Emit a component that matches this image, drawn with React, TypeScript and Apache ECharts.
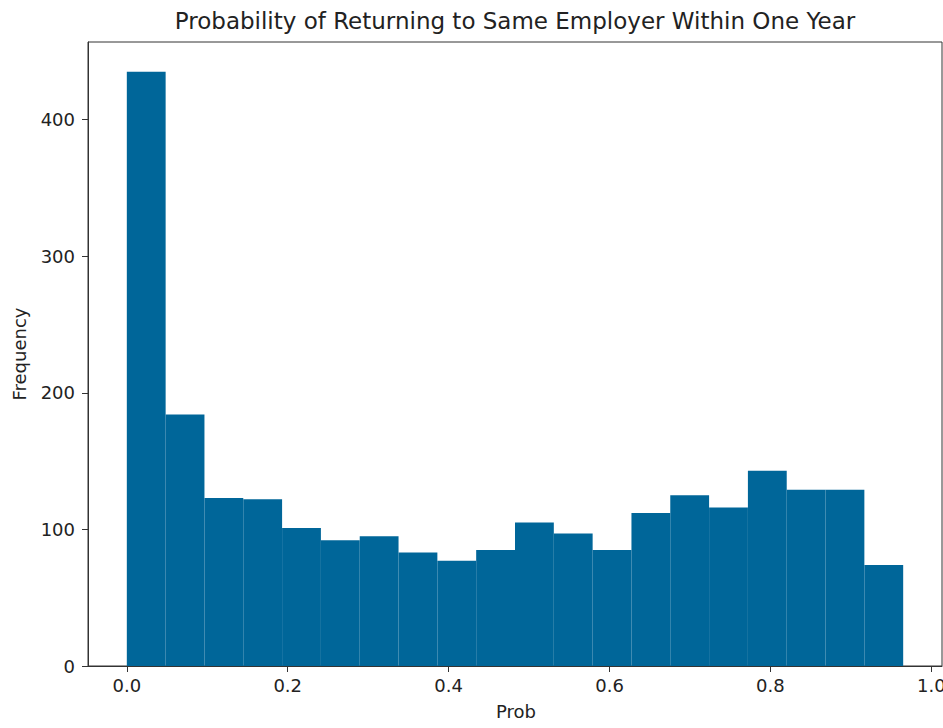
import React, { useEffect, useRef } from "react";
import * as echarts from "echarts";

// Histogram of predicted probabilities: 20 equal-width bins over the data range
const binLow = 0.0;
const binHigh = 0.965;
const binCount = 20;
const frequencies = [435, 184, 123, 122, 101, 92, 95, 83, 77, 85, 105, 97, 85, 112, 125, 116, 143, 129, 129, 74];

const xTicks = [0, 0.2, 0.4, 0.6, 0.8, 1.0];
const yTicks = [0, 100, 200, 300, 400];

const titleText = "Probability of Returning to Same Employer Within One Year";
const xName = "Prob";
const yName = "Frequency";

const FONT = "DejaVu Sans";
const BAR = "#006699";
const INK = "#222222";
const SPINE = "#333333";

export default function App() {
  const ref = useRef<HTMLDivElement>(null);

  useEffect(() => {
    if (!ref.current) return;
    const chart = echarts.init(ref.current, null, { renderer: "svg", width: 943, height: 728 });

    const step = (binHigh - binLow) / binCount;
    const rows = frequencies.map((f, i) => [binLow + i * step, binLow + (i + 1) * step, f]);
    const maxF = Math.max(...frequencies);
    const span = binHigh - binLow;

    chart.setOption({
      animation: false,
      grid: {
        left: 88,
        right: 1,
        top: 42,
        bottom: 62,
        outerBoundsMode: "none",
        containLabel: false,
        show: true,
        borderColor: SPINE,
        borderWidth: 1,
        backgroundColor: "#fff",
      },
      xAxis: {
        type: "value",
        min: binLow - 0.05 * span,
        max: binHigh + 0.05 * span,
        axisLine: { show: true, onZero: false, lineStyle: { color: SPINE, width: 1 } },
        axisTick: { show: true, length: 6, customValues: xTicks, lineStyle: { color: SPINE } },
        axisLabel: {
          customValues: xTicks,
          formatter: (v: number) => v.toFixed(1),
          color: INK,
          fontFamily: FONT,
          fontSize: 18,
          margin: 10,
          hideOverlap: false,
        },
        splitLine: { show: false },
      },
      yAxis: {
        type: "value",
        min: 0,
        max: maxF * 1.05,
        axisLine: { show: true, onZero: false, lineStyle: { color: SPINE, width: 1 } },
        axisTick: { show: true, length: 6, customValues: yTicks, lineStyle: { color: SPINE } },
        axisLabel: {
          customValues: yTicks,
          color: INK,
          fontFamily: FONT,
          fontSize: 18,
          margin: 13,
        },
        splitLine: { show: false },
      },
      series: [
        {
          type: "custom",
          clip: true,
          encode: { x: [0, 1], y: 2 },
          data: rows,
          renderItem: (_params: any, api: any) => {
            const topLeft = api.coord([api.value(0), api.value(2)]);
            const bottomRight = api.coord([api.value(1), 0]);
            return {
              type: "rect",
              shape: {
                x: topLeft[0],
                y: topLeft[1],
                width: bottomRight[0] - topLeft[0],
                height: bottomRight[1] - topLeft[1],
              },
              style: { fill: BAR },
            };
          },
        },
      ],
      graphic: [
        {
          type: "text",
          x: 515,
          y: 21,
          style: {
            text: titleText,
            fill: INK,
            font: `23px "${FONT}"`,
            align: "center",
            verticalAlign: "middle",
          },
        },
        {
          type: "text",
          x: 516,
          y: 711,
          style: {
            text: xName,
            fill: INK,
            font: `18px "${FONT}"`,
            align: "center",
            verticalAlign: "middle",
          },
        },
        {
          type: "text",
          x: 19,
          y: 354,
          rotation: Math.PI / 2,
          style: {
            text: yName,
            fill: INK,
            font: `18px "${FONT}"`,
            align: "center",
            verticalAlign: "middle",
          },
        },
      ],
    });

    return () => chart.dispose();
  }, []);

  return (
    <div
      ref={ref}
      style={{ position: "fixed", left: 0, top: 0, width: 943, height: 728, background: "#fff" }}
    />
  );
}
